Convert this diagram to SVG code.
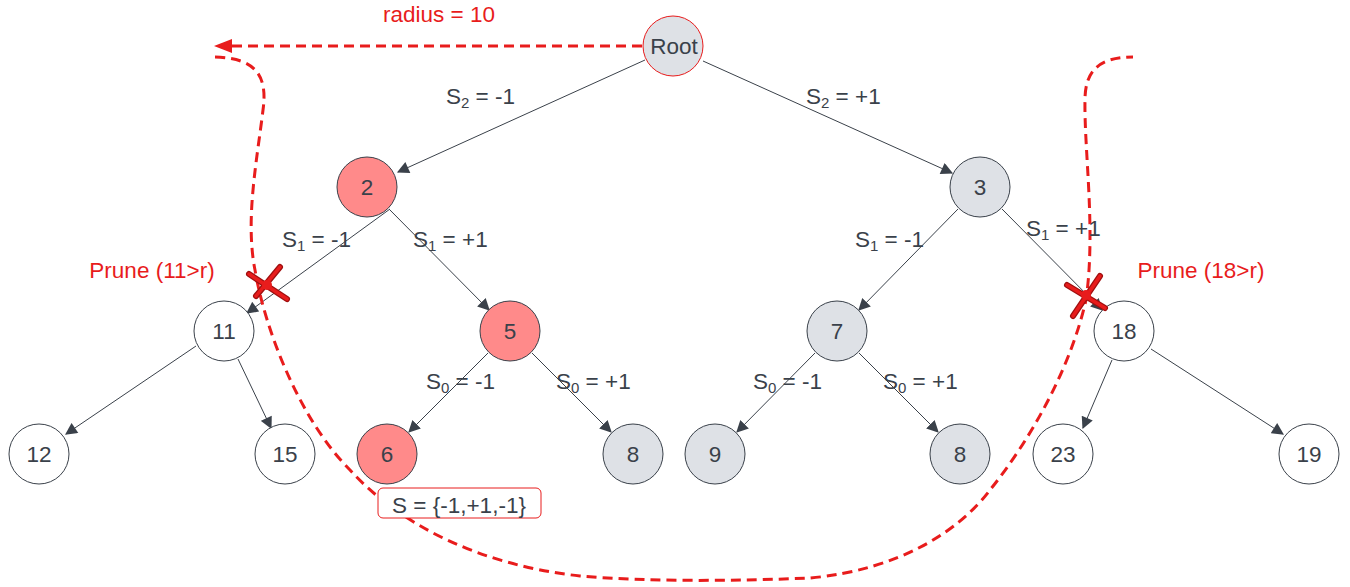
<svg xmlns="http://www.w3.org/2000/svg" width="1350" height="587" viewBox="0 0 1350 587">
<style>
text{font-family:"Liberation Sans",Arial,sans-serif;font-size:22.5px;fill:#3a414a}
.n{stroke:#3a414a;stroke-width:1}
.w{fill:#ffffff}.g{fill:#dee1e6}.p{fill:#ff8a8a}
.e{stroke:#3a414a;stroke-width:1;fill:none;marker-end:url(#ah)}
.r{fill:#e81c1c}
.dash{stroke:#e81c1c;stroke-width:3;fill:none;stroke-dasharray:10 6}
.sub{font-size:15px}
</style>
<defs>
<marker id="ah" viewBox="0 0 10 10" refX="9" refY="5" markerWidth="13" markerHeight="12" markerUnits="userSpaceOnUse" orient="auto">
<path d="M0,0 L10,5 L0,10 Z" fill="#3a414a"/>
</marker>
</defs>
<g id="connectors">
<line class="e" x1="645" y1="60" x2="398" y2="172"/>
<line class="e" x1="703" y1="61" x2="952" y2="173"/>
<line class="e" x1="390" y1="209" x2="247" y2="313"/>
<line class="e" x1="389" y1="209" x2="489" y2="310"/>
<line class="e" x1="958" y1="209" x2="859" y2="310"/>
<line class="e" x1="1002" y1="209" x2="1102" y2="310"/>
<line class="e" x1="196" y1="346" x2="66" y2="434"/>
<line class="e" x1="238" y1="359" x2="271" y2="428"/>
<line class="e" x1="488" y1="353" x2="409" y2="432"/>
<line class="e" x1="532" y1="353" x2="611" y2="432"/>
<line class="e" x1="815" y1="353" x2="737" y2="432"/>
<line class="e" x1="859" y1="353" x2="938" y2="432"/>
<line class="e" x1="1112" y1="360" x2="1083" y2="428"/>
<line class="e" x1="1151" y1="349" x2="1283" y2="434"/>
<line stroke="#e81c1c" stroke-width="3" stroke-dasharray="10 6" x1="642" y1="46" x2="226" y2="46"/>
<path d="M232,39 L214,46 L232,53 Z" fill="#e81c1c"/>
<path class="dash" d="M215,57 C255,58 268,75 263,110 C257,160 245,220 255,270 C265,330 300,420 350,470 C400,525 480,565 580,576 C650,582 740,581 810,578 C900,570 960,530 990,490 C1030,440 1070,370 1086,300 C1096,230 1084,150 1085,100 C1085,70 1100,57 1133,57"/>
</g>
<g id="n-root"><circle cx="673" cy="46" r="30" class="g" stroke="#e81c1c" stroke-width="1"/><text x="674" y="54" text-anchor="middle">Root</text></g>
<g id="n-2"><circle cx="367" cy="187" r="30" class="n p"/><text x="367" y="195" text-anchor="middle">2</text></g>
<g id="n-3"><circle cx="980" cy="187" r="30" class="n g"/><text x="980" y="195" text-anchor="middle">3</text></g>
<g id="n-11"><circle cx="224" cy="331" r="30" class="n w"/><text x="224" y="339" text-anchor="middle">11</text></g>
<g id="n-5"><circle cx="510" cy="331" r="30" class="n p"/><text x="510" y="339" text-anchor="middle">5</text></g>
<g id="n-7"><circle cx="837" cy="331" r="30" class="n g"/><text x="837" y="339" text-anchor="middle">7</text></g>
<g id="n-18"><circle cx="1124" cy="331" r="30" class="n w"/><text x="1124" y="339" text-anchor="middle">18</text></g>
<g id="n-12"><circle cx="39" cy="454" r="30" class="n w"/><text x="39" y="462" text-anchor="middle">12</text></g>
<g id="n-15"><circle cx="285" cy="454" r="30" class="n w"/><text x="285" y="462" text-anchor="middle">15</text></g>
<g id="n-6"><circle cx="387" cy="454" r="30" class="n p"/><text x="387" y="462" text-anchor="middle">6</text></g>
<g id="n-8a"><circle cx="633" cy="454" r="30" class="n g"/><text x="633" y="462" text-anchor="middle">8</text></g>
<g id="n-9"><circle cx="715" cy="454" r="30" class="n g"/><text x="715" y="462" text-anchor="middle">9</text></g>
<g id="n-8b"><circle cx="960" cy="454" r="30" class="n g"/><text x="960" y="462" text-anchor="middle">8</text></g>
<g id="n-23"><circle cx="1063" cy="454" r="30" class="n w"/><text x="1063" y="462" text-anchor="middle">23</text></g>
<g id="n-19"><circle cx="1309" cy="454" r="30" class="n w"/><text x="1309" y="462" text-anchor="middle">19</text></g>
<g id="labels">
<text x="446" y="104">S<tspan class="sub" dy="4">2</tspan><tspan dy="-4"> = -1</tspan></text>
<text x="806" y="104">S<tspan class="sub" dy="4">2</tspan><tspan dy="-4"> = +1</tspan></text>
<text x="282" y="247">S<tspan class="sub" dy="4">1</tspan><tspan dy="-4"> = -1</tspan></text>
<text x="413" y="247">S<tspan class="sub" dy="4">1</tspan><tspan dy="-4"> = +1</tspan></text>
<text x="855" y="247">S<tspan class="sub" dy="4">1</tspan><tspan dy="-4"> = -1</tspan></text>
<text x="1026" y="236">S<tspan class="sub" dy="4">1</tspan><tspan dy="-4"> = +1</tspan></text>
<text x="426" y="389">S<tspan class="sub" dy="4">0</tspan><tspan dy="-4"> = -1</tspan></text>
<text x="556" y="389">S<tspan class="sub" dy="4">0</tspan><tspan dy="-4"> = +1</tspan></text>
<text x="753" y="389">S<tspan class="sub" dy="4">0</tspan><tspan dy="-4"> = -1</tspan></text>
<text x="883" y="389">S<tspan class="sub" dy="4">0</tspan><tspan dy="-4"> = +1</tspan></text>
<text x="439" y="22" text-anchor="middle" class="r">radius = 10</text>
<text x="152" y="278" text-anchor="middle" class="r">Prune (11&gt;r)</text>
<text x="1201" y="278" text-anchor="middle" class="r">Prune (18&gt;r)</text>
</g>
<g id="result-box">
<rect x="378" y="488" width="163" height="30" rx="5" fill="#ffffff" stroke="#e81c1c" stroke-width="1"/>
<text x="459" y="513" text-anchor="middle">S = {-1,+1,-1}</text>
</g>
<g id="prune-marks" stroke-linecap="round">
<line x1="249" y1="274" x2="287" y2="299" stroke="#a01010" stroke-width="6"/>
<line x1="280" y1="267" x2="256" y2="296" stroke="#a01010" stroke-width="6"/>
<line x1="249" y1="274" x2="287" y2="299" stroke="#e81c1c" stroke-width="3.5"/>
<line x1="280" y1="267" x2="256" y2="296" stroke="#e81c1c" stroke-width="3.5"/>
<circle cx="267" cy="285" r="5" fill="#e81c1c"/>
<line x1="1067" y1="285" x2="1105" y2="308" stroke="#a01010" stroke-width="6"/>
<line x1="1100" y1="276" x2="1073" y2="316" stroke="#a01010" stroke-width="6"/>
<line x1="1067" y1="285" x2="1105" y2="308" stroke="#e81c1c" stroke-width="3.5"/>
<line x1="1100" y1="276" x2="1073" y2="316" stroke="#e81c1c" stroke-width="3.5"/>
<circle cx="1086" cy="295" r="5" fill="#e81c1c"/>
</g>
</svg>
